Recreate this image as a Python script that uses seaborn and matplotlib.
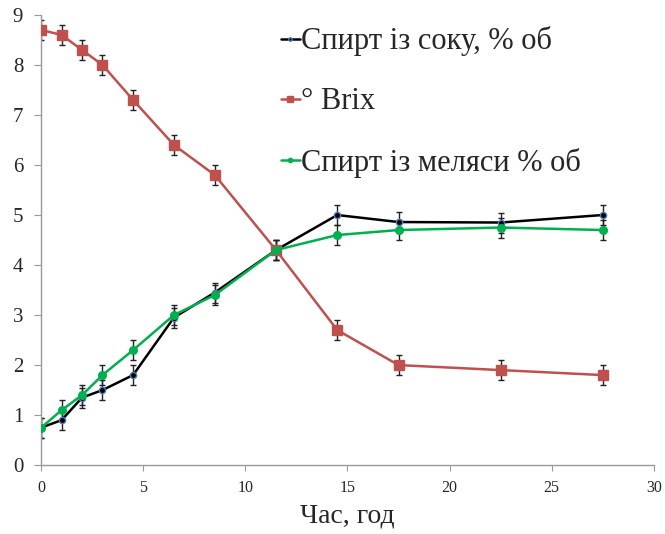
import pandas as pd
import seaborn as sns
import matplotlib.pyplot as plt
import numpy as np

# Data
hours = [0, 1, 2, 3, 4.5, 6.5, 8.5, 11.5, 14.5, 17.5, 22.5, 27.5]
alc_juice = [0.75, 0.9, 1.35, 1.5, 1.8, 2.95, 3.45, 4.3, 5.0, 4.86, 4.85, 5.0]
brix = [8.7, 8.6, 8.3, 8.0, 7.3, 6.4, 5.8, 4.3, 2.7, 2.0, 1.9, 1.8]
alc_molasses = [0.75, 1.1, 1.4, 1.8, 2.3, 3.0, 3.4, 4.3, 4.6, 4.7, 4.75, 4.7]
err = 0.2

labels = ['Спирт із соку, % об', '° Brix', 'Спирт із меляси % об']
x_ticks = [0, 5, 10, 15, 20, 25, 30]
y_ticks = list(range(0, 10))

sns.set_style('white')
plt.rcParams['font.family'] = ['Liberation Serif', 'DejaVu Serif']

fig = plt.figure(figsize=(6.65, 5.34), dpi=100)
ax = fig.add_axes([0.062, 0.129, 0.921, 0.843])

series = [
    (alc_juice, '#000000', 'o', 4.5, '#4a7ebb'),
    (brix, '#c0504d', 's', 7.5, '#c0504d'),
    (alc_molasses, '#00b050', 'o', 5.5, '#00b050'),
]
for vals, col, mk, ms, mec in series:
    # error bars first so markers sit on top
    ax.errorbar(hours, vals, yerr=err, fmt='none', ecolor='#222222',
                elinewidth=1, capsize=2, capthick=1, zorder=2)
for (vals, col, mk, ms, mec), lab in zip(series, labels):
    sns.lineplot(x=hours, y=vals, ax=ax, color=col, marker=mk, markersize=ms,
                 markeredgecolor=mec, markeredgewidth=1, linewidth=1.8,
                 label=lab, zorder=3)

ax.set_xlim(0, 30)
ax.set_ylim(0, 9)
ax.set_xticks(x_ticks)
ax.set_yticks(y_ticks)
ax.tick_params(axis='x', labelsize=11.5, length=4, color='#999999', direction='out', pad=7)
ax.tick_params(axis='y', labelsize=15, length=5, color='#999999', direction='out', pad=8)
ax.tick_params(bottom=True, left=True)
for s in ['top', 'right']:
    ax.spines[s].set_visible(False)
for s in ['left', 'bottom']:
    ax.spines[s].set_color('#999999')
    ax.spines[s].set_linewidth(1)

ax.set_xlabel('Час, год', fontsize=20, labelpad=5)
ax.set_ylabel('')

leg = ax.legend(loc='upper left', bbox_to_anchor=(0.392, 0.975), frameon=False,
                fontsize=22, handlelength=0.6, handletextpad=0.05,
                labelspacing=1.02, markerscale=0.55, borderpad=0, borderaxespad=0)

fig.savefig('out.png', dpi=100)
